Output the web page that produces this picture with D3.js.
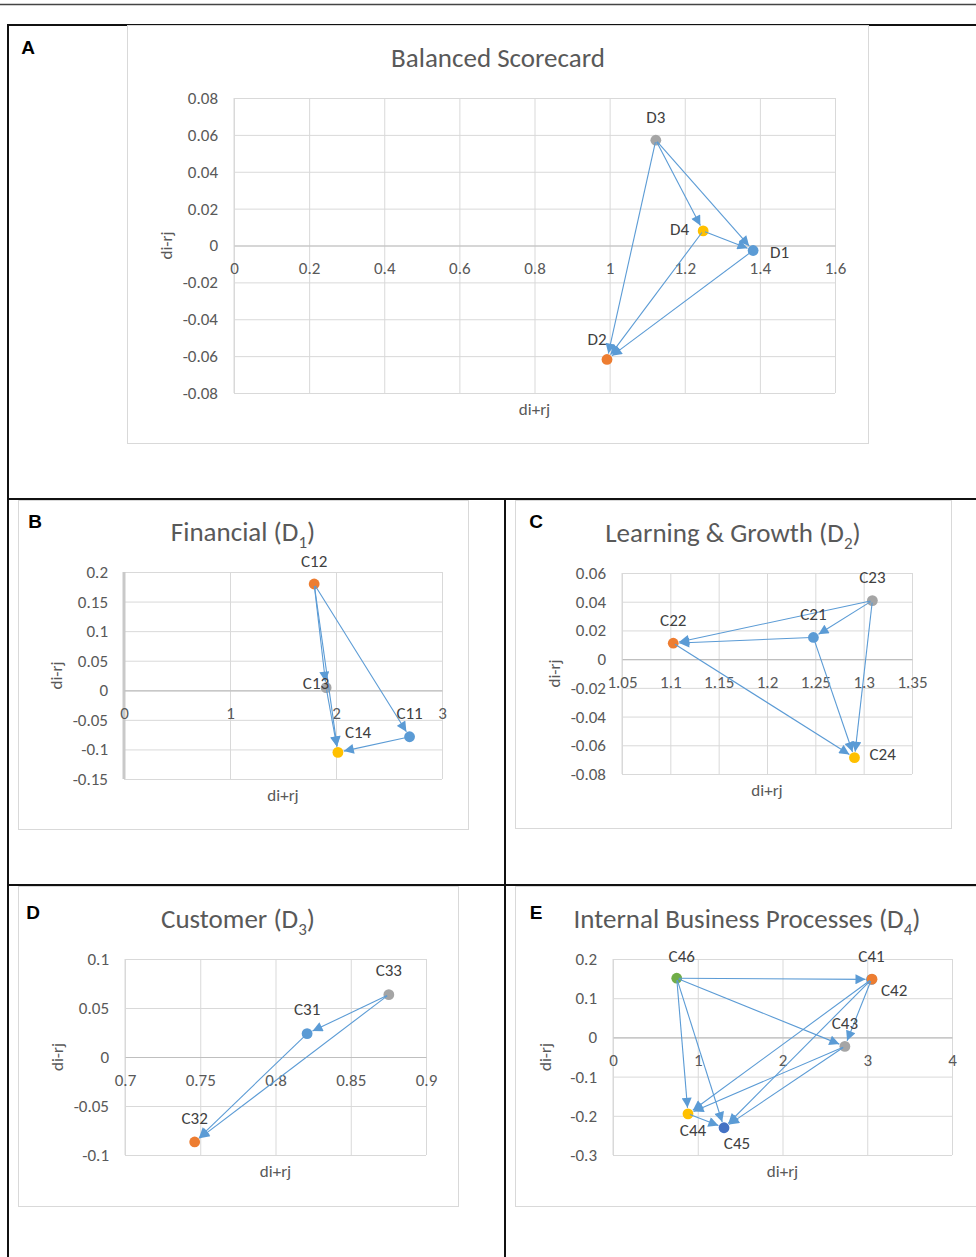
<!DOCTYPE html>
<html>
<head>
<meta charset="utf-8">
<script src="https://cdn.jsdelivr.net/npm/d3@7"></script>
<style>
  html, body { margin: 0; padding: 0; background: #fff; }
  svg { display: block; }
</style>
</head>
<body>
<svg id="fig" width="976" height="1257"></svg>
<script>
// ---------- Panel A: Balanced Scorecard dimensions ----------
const dimNames = ["D1", "D2", "D3", "D4"];
const dimSum   = [1.382, 0.993, 1.123, 1.249];        // di+rj
const dimDiff  = [-0.0027, -0.0618, 0.0571, 0.0079];  // di-rj
const dimLinks = [["D3","D2"], ["D3","D4"], ["D3","D1"], ["D4","D1"], ["D4","D2"], ["D1","D2"]];
const dimXTicks = ["0", "0.2", "0.4", "0.6", "0.8", "1", "1.2", "1.4", "1.6"];
const dimYTicks = ["0.08", "0.06", "0.04", "0.02", "0", "-0.02", "-0.04", "-0.06", "-0.08"];

// ---------- Panel B: Financial (D1) ----------
const finNames = ["C11", "C12", "C13", "C14"];
const finSum   = [2.694, 1.794, 1.907, 2.018];
const finDiff  = [-0.0786, 0.1797, 0.0044, -0.105];
const finLinks = [["C12","C13"], ["C12","C14"], ["C13","C14"], ["C12","C11"], ["C11","C14"]];
const finXTicks = ["0", "1", "2", "3"];
const finYTicks = ["0.2", "0.15", "0.1", "0.05", "0", "-0.05", "-0.1", "-0.15"];

// ---------- Panel C: Learning & Growth (D2) ----------
const lgNames = ["C21", "C22", "C23", "C24"];
const lgSum   = [1.248, 1.103, 1.309, 1.2905];
const lgDiff  = [0.0151, 0.0111, 0.0408, -0.0686];
const lgLinks = [["C23","C22"], ["C23","C21"], ["C21","C22"], ["C23","C24"], ["C21","C24"], ["C22","C24"]];
const lgXTicks = ["1.05", "1.1", "1.15", "1.2", "1.25", "1.3", "1.35"];
const lgYTicks = ["0.06", "0.04", "0.02", "0", "-0.02", "-0.04", "-0.06", "-0.08"];

// ---------- Panel D: Customer (D3) ----------
const cusNames = ["C31", "C32", "C33"];
const cusSum   = [0.821, 0.7463, 0.8753];
const cusDiff  = [0.0238, -0.0867, 0.0636];
const cusLinks = [["C33","C31"], ["C33","C32"], ["C31","C32"]];
const cusXTicks = ["0.7", "0.75", "0.8", "0.85", "0.9"];
const cusYTicks = ["0.1", "0.05", "0", "-0.05", "-0.1"];

// ---------- Panel E: Internal Business Processes (D4) ----------
const ibpNames = ["C41", "C42", "C43", "C44", "C45", "C46"];
const ibpSum   = [3.05, 3.056, 2.736, 0.885, 1.31, 0.752];
const ibpDiff  = [0.148, 0.1486, -0.0229, -0.195, -0.2305, 0.151];
const ibpLinks = [["C46","C41"], ["C46","C43"], ["C46","C44"], ["C46","C45"],
                  ["C41","C43"], ["C41","C44"], ["C41","C45"],
                  ["C43","C44"], ["C43","C45"], ["C44","C45"]];
const ibpXTicks = ["0", "1", "2", "3", "4"];
const ibpYTicks = ["0.2", "0.1", "0", "-0.1", "-0.2", "-0.3"];

// Office-style series colours, in series order
const seriesColors = ["#5B9BD5", "#ED7D31", "#A5A5A5", "#FFC000", "#4472C4", "#70AD47"];

const FONT = "Carlito, Lato, 'Open Sans', sans-serif";
const TXT = "#595959";
const LAB = "#404040";
const GRID = "#d9d9d9";
const ARROW = "#5B9BD5";
const TICK_SIZE = 17;
const LABEL_SIZE = 17;
const TITLE_SIZE = 27;

const svg = d3.select("#fig");

svg.append("defs").append("marker")
  .attr("id", "arrowhead")
  .attr("viewBox", "0 0 10 10")
  .attr("refX", 10).attr("refY", 5)
  .attr("markerWidth", 12).attr("markerHeight", 10)
  .attr("markerUnits", "userSpaceOnUse")
  .attr("orient", "auto")
  .append("path")
  .attr("d", "M0,0L10,5L0,10Z")
  .attr("fill", ARROW);

// ---------- figure frame ----------
const frame = svg.append("g").attr("stroke-linecap", "square");
frame.append("line").attr("x1", 0).attr("x2", 976).attr("y1", 4.5).attr("y2", 4.5)
  .attr("stroke", "#444").attr("stroke-width", 1.5);

// chart area boxes
const boxes = [[127, 25, 868, 443], [18, 500, 468, 829], [515, 500, 951, 828],
               [18, 886, 458, 1206], [515, 886, 985, 1206]];
svg.append("g").selectAll("rect").data(boxes).join("rect")
  .attr("x", d => d[0] + 0.5).attr("y", d => d[1] + 0.5)
  .attr("width", d => d[2] - d[0]).attr("height", d => d[3] - d[1])
  .attr("fill", "none").attr("stroke", GRID).attr("stroke-width", 1);

[[8, 25, 980, 25], [8, 25, 8, 1260], [8, 499, 980, 499], [8, 885, 980, 885], [505, 499, 505, 1260]]
  .forEach(s => frame.append("line")
    .attr("x1", s[0]).attr("y1", s[1]).attr("x2", s[2]).attr("y2", s[3])
    .attr("stroke", "#111").attr("stroke-width", 2));

// ---------- panels ----------
const panels = [
  { letter: "A", letterXY: [28, 47], titleMain: "Balanced Scorecard", titleSub: null, titleXY: [498, 58],
    plot: [234, 98, 835, 393], xDom: [0, 1.6], yDom: [-0.08, 0.08],
    names: dimNames, xs: dimSum, ys: dimDiff, links: dimLinks, xTicks: dimXTicks, yTicks: dimYTicks,
    place: { D1: [17, 2, "start"], D2: [-10, -20, "middle"], D3: [0, -23, "middle"], D4: [-14, -1, "end"] } },
  { letter: "B", letterXY: [35, 521], titleMain: "Financial (D", titleSub: "1", titleXY: [243, 532],
    plot: [124, 572, 442, 779], xDom: [0, 3], yDom: [-0.15, 0.2], thickY: true,
    names: finNames, xs: finSum, ys: finDiff, links: finLinks, xTicks: finXTicks, yTicks: finYTicks,
    place: { C11: [0, -23, "middle"], C12: [0, -23, "middle"], C13: [3, -4, "end"], C14: [7, -20, "start"] } },
  { letter: "C", letterXY: [536, 521], titleMain: "Learning & Growth (D", titleSub: "2", titleXY: [733, 533],
    plot: [622, 573, 912, 774], xDom: [1.05, 1.35], yDom: [-0.08, 0.06],
    names: lgNames, xs: lgSum, ys: lgDiff, links: lgLinks, xTicks: lgXTicks, yTicks: lgYTicks,
    place: { C21: [0, -23, "middle"], C22: [0, -23, "middle"], C23: [0, -23, "middle"], C24: [15, -3, "start"] } },
  { letter: "D", letterXY: [33, 912], titleMain: "Customer (D", titleSub: "3", titleXY: [238, 919],
    plot: [125, 959, 426, 1155], xDom: [0.7, 0.9], yDom: [-0.1, 0.1],
    names: cusNames, xs: cusSum, ys: cusDiff, links: cusLinks, xTicks: cusXTicks, yTicks: cusYTicks,
    place: { C31: [0, -24, "middle"], C32: [0, -23, "middle"], C33: [0, -24, "middle"] } },
  { letter: "E", letterXY: [536, 912], titleMain: "Internal Business Processes (D", titleSub: "4", titleXY: [747, 919],
    plot: [613, 959, 952, 1155], xDom: [0, 4], yDom: [-0.3, 0.2],
    names: ibpNames, xs: ibpSum, ys: ibpDiff, links: ibpLinks, xTicks: ibpXTicks, yTicks: ibpYTicks,
    place: { C41: [0, -23, "middle"], C42: [9, 11, "start"], C43: [0, -23, "middle"],
             C44: [5, 17, "middle"], C45: [13, 16, "middle"], C46: [5, -22, "middle"] } }
];

panels.forEach(drawPanel);

function drawPanel(p) {
  const [L, T, R, B] = p.plot;
  const x = d3.scaleLinear().domain(p.xDom).range([L, R]);
  const y = d3.scaleLinear().domain(p.yDom).range([B, T]);
  const g = svg.append("g");

  // panel letter
  g.append("text").attr("x", p.letterXY[0]).attr("y", p.letterXY[1])
    .attr("text-anchor", "middle").attr("dominant-baseline", "central")
    .attr("font-family", "'Liberation Sans', Arial, sans-serif").attr("font-weight", "bold")
    .attr("font-size", 19).attr("fill", "#000").text(p.letter);

  // title
  const t = g.append("text").attr("x", p.titleXY[0]).attr("y", p.titleXY[1] + 9)
    .attr("text-anchor", "middle").attr("font-family", FONT)
    .attr("font-size", TITLE_SIZE).attr("fill", TXT);
  t.append("tspan").text(p.titleMain);
  if (p.titleSub) {
    t.append("tspan").attr("font-size", 17).attr("dy", 7).text(p.titleSub);
    t.append("tspan").attr("dy", -7).text(")");
  }

  const xVals = p.xTicks.map(Number);
  const yVals = p.yTicks.map(Number);

  // horizontal gridlines + y tick labels
  const gy = g.append("g").attr("transform", `translate(${L},0)`)
    .call(d3.axisLeft(y).tickValues(yVals).tickSize(-(R - L)).tickPadding(16)
      .tickFormat((d, i) => p.yTicks[i]));
  // vertical gridlines
  const gx = g.append("g").attr("transform", `translate(0,${B})`)
    .call(d3.axisBottom(x).tickValues(xVals).tickSize(-(B - T)).tickFormat(""));
  [gy, gx].forEach(a => {
    a.select(".domain").remove();
    a.selectAll(".tick line").attr("stroke", GRID).attr("stroke-width", 1);
  });
  gy.selectAll(".tick text").attr("font-family", FONT).attr("font-size", TICK_SIZE).attr("fill", TXT);

  // left axis line
  g.append("line").attr("x1", L).attr("x2", L).attr("y1", T).attr("y2", B)
    .attr("stroke", p.thickY ? "#c9c9c9" : GRID).attr("stroke-width", p.thickY ? 3 : 1);

  // horizontal axis crossing at zero, with its labels
  const ga = g.append("g").attr("transform", `translate(0,${y(0)})`)
    .call(d3.axisBottom(x).tickValues(xVals).tickSize(0).tickFormat((d, i) => p.xTicks[i]));
  ga.select(".domain").attr("stroke", "#bfbfbf").attr("stroke-width", 1.2);
  ga.selectAll(".tick text").attr("y", 23).attr("dy", "0.35em")
    .attr("font-family", FONT).attr("font-size", TICK_SIZE).attr("fill", TXT);

  // axis titles
  g.append("text").attr("transform", `translate(${L - 68},${(T + B) / 2}) rotate(-90)`)
    .attr("text-anchor", "middle").attr("dominant-baseline", "central")
    .attr("font-family", FONT).attr("font-size", TICK_SIZE).attr("fill", TXT).text("di-rj");
  g.append("text").attr("x", (L + R) / 2).attr("y", B + 16)
    .attr("text-anchor", "middle").attr("dominant-baseline", "central")
    .attr("font-family", FONT).attr("font-size", TICK_SIZE).attr("fill", TXT).text("di+rj");

  // points
  const pts = p.names.map((n, i) => ({ name: n, px: x(p.xs[i]), py: y(p.ys[i]), color: seriesColors[i] }));
  const byName = Object.fromEntries(pts.map(d => [d.name, d]));

  g.append("g").selectAll("circle").data(pts).join("circle")
    .attr("cx", d => d.px).attr("cy", d => d.py).attr("r", 5.4)
    .attr("fill", d => d.color);

  // influence arrows
  const arrows = p.links.map(([a, b]) => {
    const s = byName[a], e = byName[b];
    const dx = e.px - s.px, dy = e.py - s.py, len = Math.hypot(dx, dy);
    const ux = dx / len, uy = dy / len;
    return { x1: s.px + ux * 2, y1: s.py + uy * 2, x2: e.px - ux * 6, y2: e.py - uy * 6 };
  });
  g.append("g").selectAll("line").data(arrows).join("line")
    .attr("x1", d => d.x1).attr("y1", d => d.y1).attr("x2", d => d.x2).attr("y2", d => d.y2)
    .attr("stroke", ARROW).attr("stroke-width", 1.1)
    .attr("marker-end", "url(#arrowhead)");

  // data labels
  g.append("g").selectAll("text").data(pts).join("text")
    .attr("x", d => d.px + p.place[d.name][0])
    .attr("y", d => d.py + p.place[d.name][1])
    .attr("text-anchor", d => p.place[d.name][2])
    .attr("dominant-baseline", "central")
    .attr("font-family", FONT).attr("font-size", LABEL_SIZE).attr("fill", LAB)
    .text(d => d.name);
}
</script>
</body>
</html>
